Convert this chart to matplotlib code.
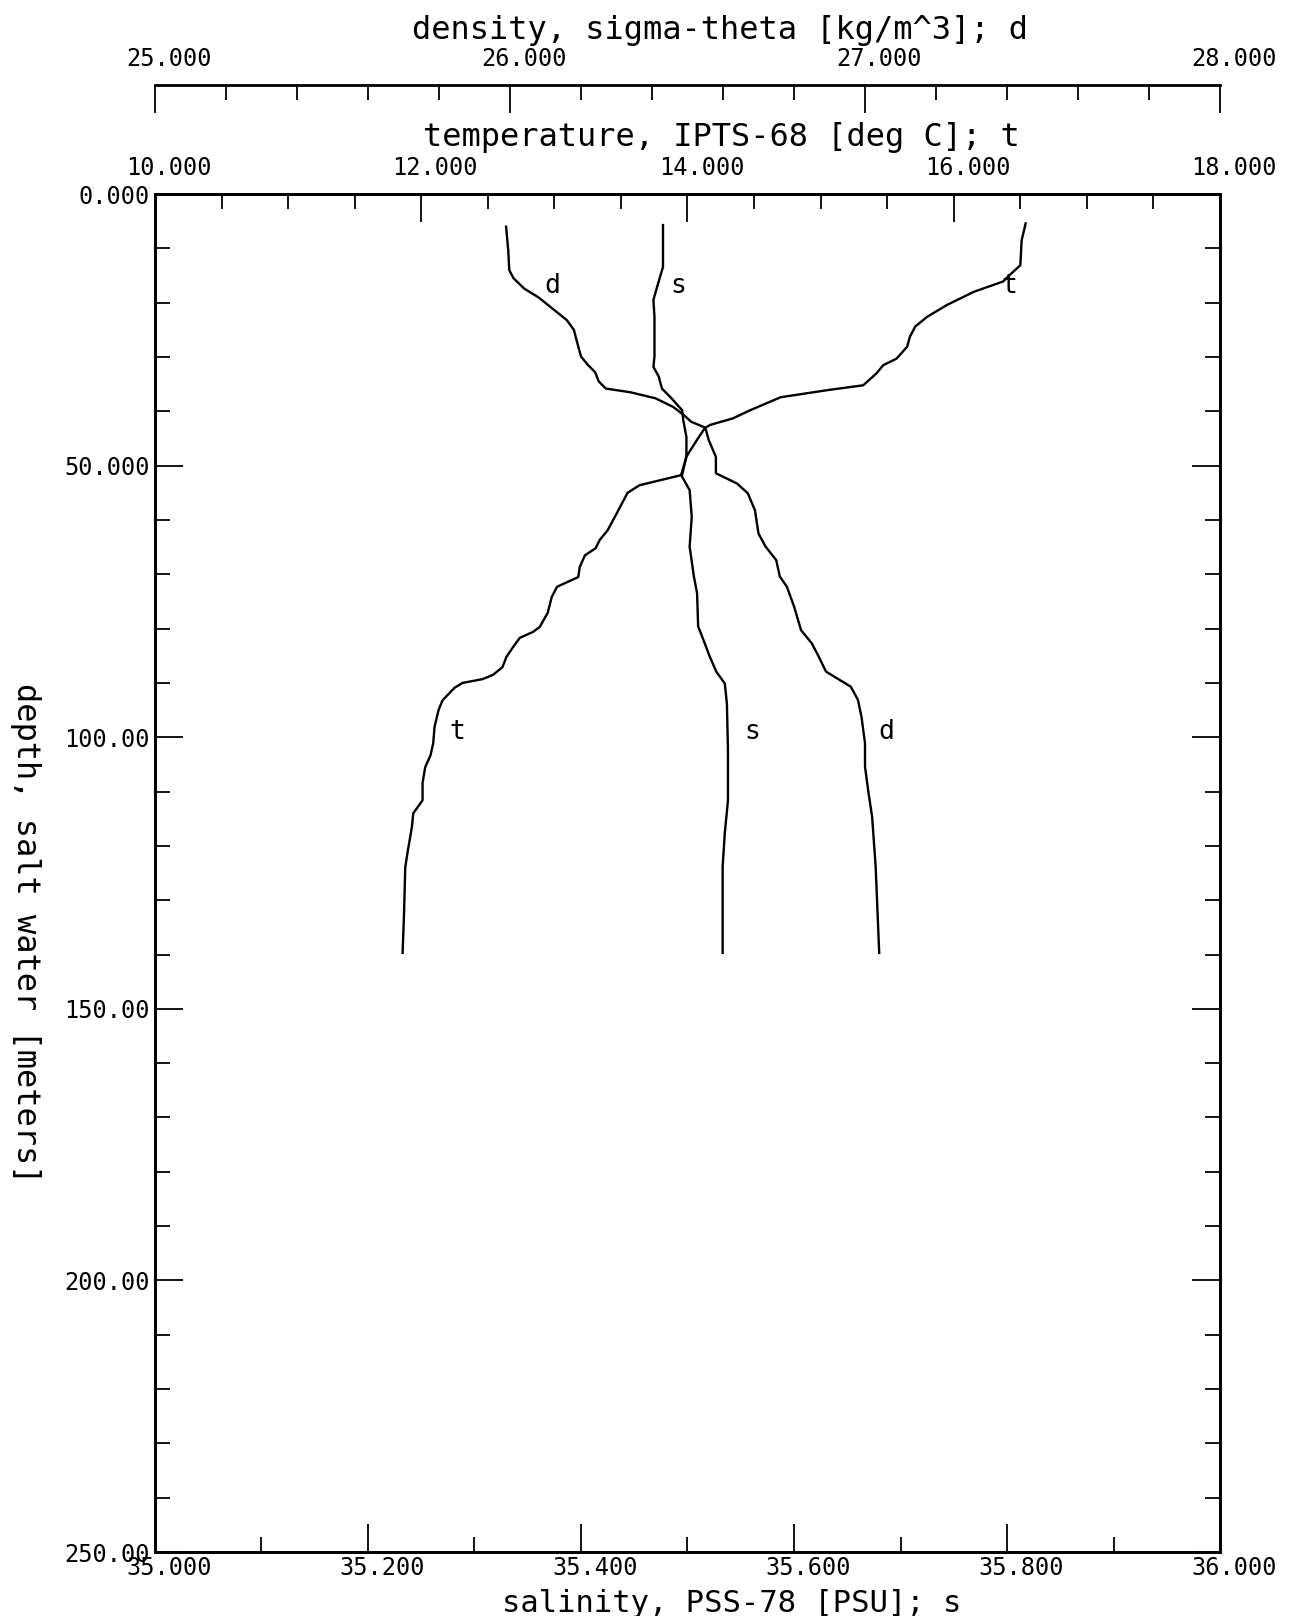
import matplotlib
matplotlib.use("Agg")
import matplotlib.pyplot as plt
import matplotlib.transforms as mtransforms
from matplotlib.ticker import MultipleLocator, FuncFormatter

# %%
# temperature profile (IPTS-68, deg C) vs depth (m)
depth_t = [5.4, 8.5, 13.1, 14.9, 16.1, 18.0, 20.4, 22.6, 24.4, 26.3, 28.1, 30.3, 31.5, 33.0, 35.2,
           36.1, 37.4, 39.8, 41.3, 42.5, 43.1, 45.3, 48.4, 51.7, 53.6, 55.0, 58.7, 61.9, 63.7, 65.2,
           66.5, 68.7, 70.5, 72.3, 74.2, 77.1, 79.7, 80.6, 81.7, 83.4, 85.2, 87.1, 88.5, 89.3, 90.0,
           90.9, 93.2, 95.0, 98.1, 101.1, 103.3, 105.5, 108.4, 111.6, 114.0, 116.5, 120.8, 123.9, 133.1, 139.7]
temp = [16.54, 16.51, 16.50, 16.42, 16.37, 16.15, 15.95, 15.80, 15.71, 15.67, 15.65, 15.57, 15.47, 15.42, 15.32,
        15.05, 14.70, 14.47, 14.34, 14.17, 14.13, 14.07, 13.99, 13.96, 13.64, 13.55, 13.47, 13.40, 13.34, 13.31,
        13.23, 13.19, 13.18, 13.02, 12.98, 12.95, 12.89, 12.84, 12.74, 12.69, 12.64, 12.61, 12.54, 12.46, 12.31,
        12.25, 12.16, 12.13, 12.10, 12.09, 12.07, 12.03, 12.01, 12.01, 11.94, 11.93, 11.90, 11.88, 11.87, 11.86]

# salinity (PSS-78)
depth_s = [5.7, 13.4, 17.4, 19.5, 22.6, 29.9, 31.8, 33.6, 35.8, 37.6, 39.8, 41.6, 44.7, 48.4, 51.7,
           54.5, 59.4, 64.9, 70.4, 73.5, 79.6, 82.1, 85.2, 87.9, 90.1, 93.8, 102.4, 111.6, 117.7, 123.8, 139.7]
sal = [35.477, 35.477, 35.471, 35.468, 35.469, 35.469, 35.468, 35.473, 35.476, 35.485, 35.495, 35.496, 35.499,
       35.499, 35.494, 35.502, 35.504, 35.502, 35.506, 35.509, 35.510, 35.515, 35.521, 35.527, 35.535, 35.537,
       35.538, 35.538, 35.535, 35.533, 35.533]

# density, sigma-theta (kg/m^3)
depth_d = [6.0, 10.3, 14.0, 15.5, 17.4, 19.0, 21.1, 23.2, 25.0, 27.5, 29.9, 31.5, 32.8, 34.5, 35.8,
           36.5, 37.6, 39.2, 40.7, 41.9, 43.0, 45.3, 48.4, 51.4, 53.3, 55.1, 58.2, 62.5, 64.9, 67.4,
           70.4, 72.3, 75.9, 80.3, 82.7, 85.2, 87.9, 89.5, 90.7, 93.1, 96.2, 101.1, 105.4, 110.3, 114.6,
           123.8, 139.7]
dens = [25.989, 25.995, 25.998, 26.01, 26.04, 26.08, 26.12, 26.16, 26.18, 26.19, 26.20, 26.22, 26.24, 26.25,
        26.27, 26.34, 26.41, 26.46, 26.49, 26.51, 26.55, 26.56, 26.58, 26.58, 26.64, 26.67, 26.69, 26.70,
        26.72, 26.75, 26.76, 26.78, 26.80, 26.82, 26.85, 26.87, 26.89, 26.93, 26.96, 26.98, 26.99, 27.00,
        27.00, 27.01, 27.02, 27.03, 27.04]

# curve tags (value, depth) at top and bottom of each profile
tag_t = [(16.42, 17.0), (12.27, 99.0)]
tag_s = [(35.491, 17.0), (35.561, 99.0)]
tag_d = [(26.12, 17.0), (27.06, 99.0)]

# %%
FONT = "DejaVu Sans Mono"
TICK_FS = 17
TITLE_FS = 23
MAJ, MIN = 20, 10.5

plt.rcParams["font.family"] = FONT


def fmt6(v, pos=None):
    return f"{v:.3f}"[:6]


fig = plt.figure(figsize=(12.99, 16.16), dpi=100)
ax = fig.add_axes([0.1193, 0.0396, 0.8199, 0.8403])
ax_t = ax.twiny()
ax_d = ax.twiny()

for a in (ax, ax_t, ax_d):
    for sp in a.spines.values():
        sp.set_linewidth(2)

# salinity (bottom) + depth
ax.set_xlim(35.0, 36.0)
ax.set_ylim(250, 0)
ax.xaxis.set_major_locator(MultipleLocator(0.2))
ax.xaxis.set_minor_locator(MultipleLocator(0.1))
ax.yaxis.set_major_locator(MultipleLocator(50))
ax.yaxis.set_minor_locator(MultipleLocator(10))
ax.xaxis.set_major_formatter(FuncFormatter(fmt6))
ax.yaxis.set_major_formatter(FuncFormatter(fmt6))
ax.tick_params(axis="x", which="both", direction="in", top=False, bottom=True, pad=3,
               labelsize=TICK_FS, width=1.3)
ax.tick_params(axis="y", which="both", direction="in", left=True, right=True, labelright=False,
               pad=4, labelsize=TICK_FS, width=1.3)
ax.tick_params(which="major", length=MAJ)
ax.tick_params(which="minor", length=MIN)

# temperature (top of frame)
ax_t.set_xlim(10, 18)
ax_t.xaxis.set_major_locator(MultipleLocator(2))
ax_t.xaxis.set_minor_locator(MultipleLocator(0.5))
ax_t.xaxis.set_major_formatter(FuncFormatter(fmt6))
ax_t.tick_params(axis="x", which="both", direction="in", top=True, bottom=False, pad=10,
                 labelsize=TICK_FS, width=1.3)
ax_t.tick_params(which="major", length=MAJ)
ax_t.tick_params(which="minor", length=MIN)

# density (separate line above)
ax_d.set_xlim(25, 28)
ax_d.spines["top"].set_position(("axes", 1.0803))
for s in ("left", "right", "bottom"):
    ax_d.spines[s].set_visible(False)
ax_d.xaxis.set_major_locator(MultipleLocator(1))
ax_d.xaxis.set_minor_locator(MultipleLocator(0.2))
ax_d.xaxis.set_major_formatter(FuncFormatter(fmt6))
ax_d.tick_params(axis="x", which="both", direction="in", top=True, bottom=False, pad=10,
                 labelsize=TICK_FS, width=1.3)
ax_d.tick_params(which="major", length=MAJ)
ax_d.tick_params(which="minor", length=MIN)

# nudge x tick labels to the right, like the plotter output
shift = mtransforms.ScaledTranslation(0.14, 0, fig.dpi_scale_trans)
for a in (ax, ax_t, ax_d):
    for lab in a.get_xticklabels():
        lab.set_transform(lab.get_transform() + shift)

# %%
lw = 1.7
ax.plot(sal, depth_s, color="black", lw=lw)
ax_t.plot(temp, depth_t, color="black", lw=lw)
ax_d.plot(dens, depth_d, color="black", lw=lw)

for x, y in tag_s:
    ax.text(x, y, "s", fontsize=19, ha="center", va="center")
for x, y in tag_t:
    ax_t.text(x, y, "t", fontsize=19, ha="center", va="center")
for x, y in tag_d:
    ax_d.text(x, y, "d", fontsize=19, ha="center", va="center")

# axis titles
fig.text(0.554, 0.981, "density, sigma-theta [kg/m^3]; d", fontsize=TITLE_FS, ha="center", va="center")
fig.text(0.555, 0.915, "temperature, IPTS-68 [deg C]; t", fontsize=TITLE_FS, ha="center", va="center")
fig.text(0.563, 0.0075, "salinity, PSS-78 [PSU]; s", fontsize=TITLE_FS - 1, ha="center", va="center")
fig.text(0.020, 0.4226, "depth, salt water [meters]", fontsize=TITLE_FS, ha="center", va="center",
         rotation=-90)

fig.savefig("out.png", dpi=100)
